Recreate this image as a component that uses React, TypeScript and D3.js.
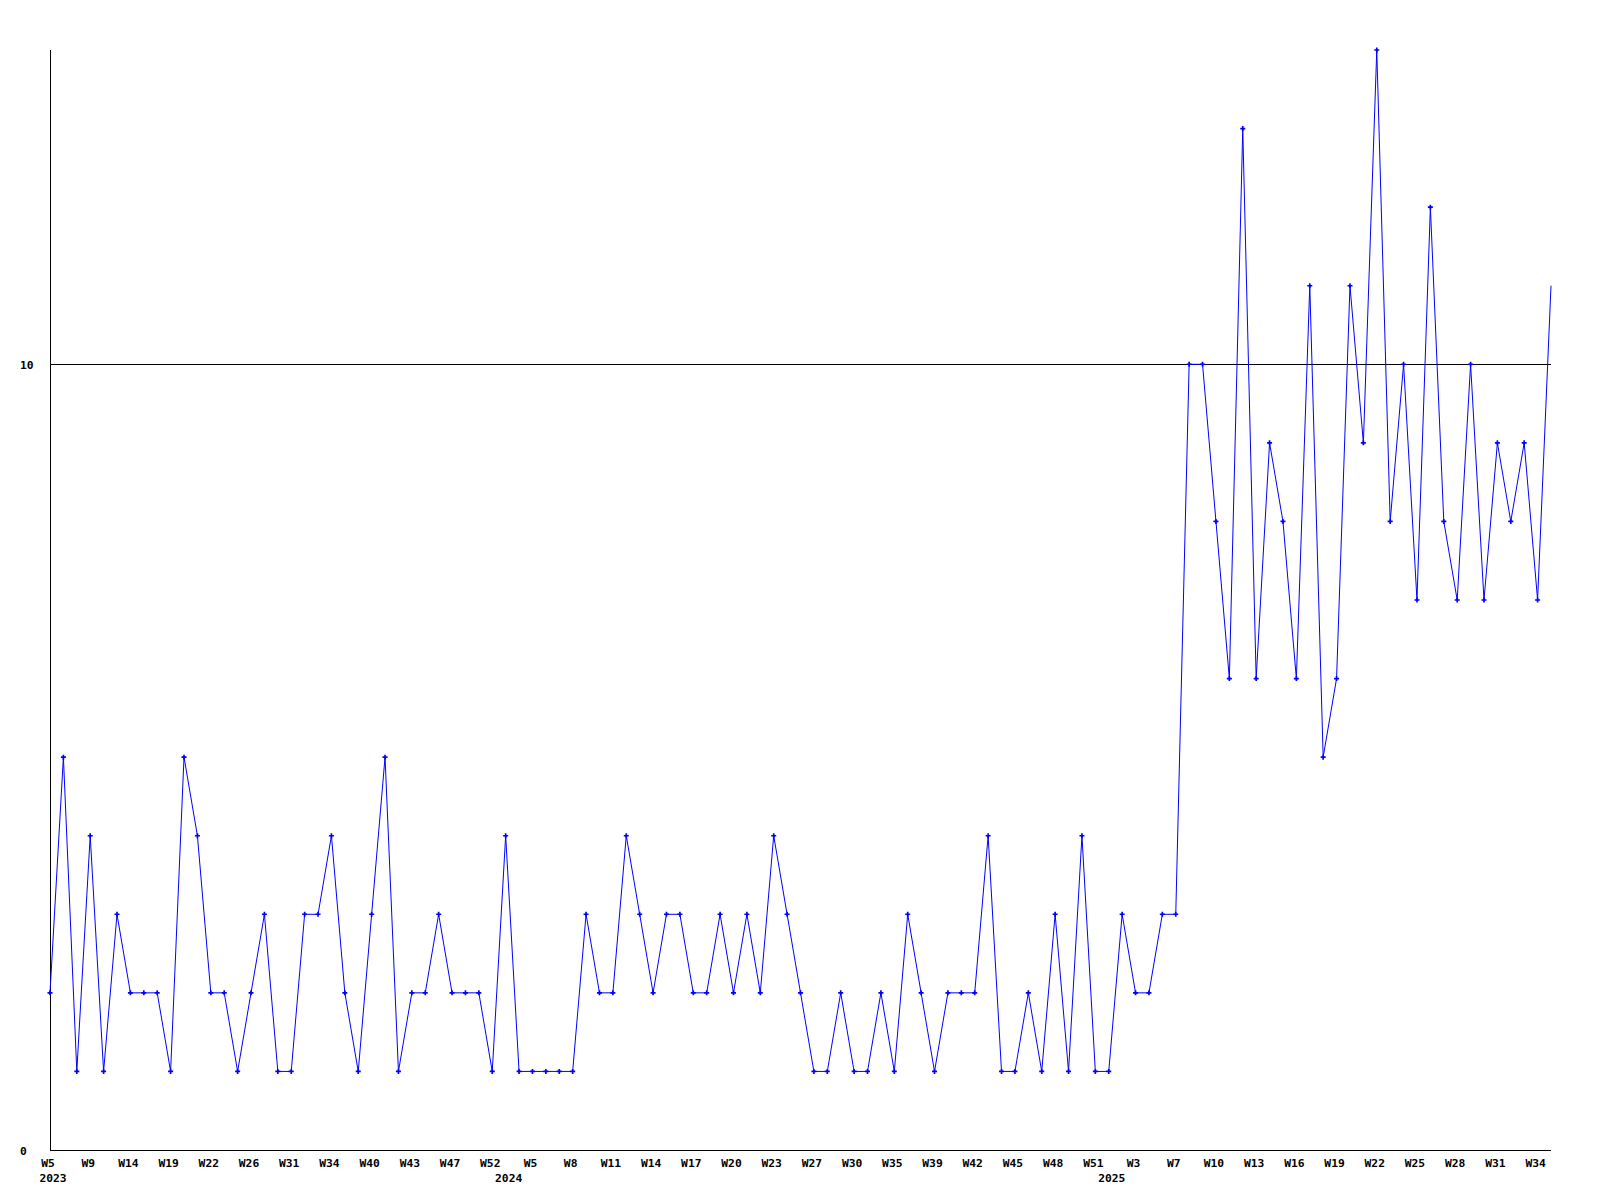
import React from "react";
import * as d3 from "d3";

const values: number[] = [
  2, 5, 1, 4, 1, 3, 2, 2, 2, 1, 5, 4, 2, 2, 1, 2, 3, 1, 1, 3,
  3, 4, 2, 1, 3, 5, 1, 2, 2, 3, 2, 2, 2, 1, 4, 1, 1, 1, 1, 1,
  3, 2, 2, 4, 3, 2, 3, 3, 2, 2, 3, 2, 3, 2, 4, 3, 2, 1, 1, 2,
  1, 1, 2, 1, 3, 2, 1, 2, 2, 2, 4, 1, 1, 2, 1, 3, 1, 4, 1, 1,
  3, 2, 2, 3, 3, 10, 10, 8, 6, 13, 6, 9, 8, 6, 11, 5, 6, 11, 9, 14,
  8, 10, 7, 12, 8, 7, 10, 7, 9, 8, 9, 7, 11,
];

const weekLabels: string[] = [
  "W5", "W9", "W14", "W19", "W22", "W26", "W31", "W34", "W40", "W43", "W47", "W52",
  "W5", "W8", "W11", "W14", "W17", "W20", "W23", "W27", "W30", "W35", "W39", "W42", "W45", "W48", "W51",
  "W3", "W7", "W10", "W13", "W16", "W19", "W22", "W25", "W28", "W31", "W34",
];
const labelStep = 3;

const yearNames: string[] = ["2023", "2024", "2025"];
const yearStartIndex: number[] = [0, 34, 79];

const yTickValues: number[] = [0, 10];
const refLineValue = 10;
const yMax = 14;

const W = 1600;
const H = 1200;
const left = 50;
const right = 1551;
const top = 50;
const bottom = 1150;

const FONT = "'DejaVu Sans Mono', 'Liberation Mono', monospace";
const FS = 11.3;

export default function App() {
  const x = d3.scaleLinear().domain([0, values.length - 1]).range([left, right]);
  const y = d3.scaleLinear().domain([0, yMax]).range([bottom, top]);
  const line = d3
    .line<number>()
    .x((_, i) => x(i))
    .y((d) => y(d));
  const marker = d3.symbol().type(d3.symbolCross).size(14)() as string;

  return (
    <svg
      width={W}
      height={H}
      style={{ position: "absolute", left: 0, top: 0, background: "#fff" }}
    >
      <rect x={0} y={0} width={W} height={H} fill="#fff" />
      {/* axes */}
      <line x1={left + 0.5} x2={left + 0.5} y1={top} y2={bottom} stroke="#000" strokeWidth={1} shapeRendering="crispEdges" />
      <line x1={left} x2={right} y1={bottom + 0.5} y2={bottom + 0.5} stroke="#000" strokeWidth={1} shapeRendering="crispEdges" />
      <line x1={left} x2={right} y1={Math.round(y(refLineValue)) + 0.5} y2={Math.round(y(refLineValue)) + 0.5} stroke="#000" strokeWidth={1} shapeRendering="crispEdges" />

      {/* y labels */}
      {yTickValues.map((v) => (
        <text
          key={v}
          x={20}
          y={y(v) + 5}
          fontFamily={FONT}
          fontWeight="bold"
          fontSize={FS}
          fill="#000"
        >
          {v}
        </text>
      ))}

      {/* data line */}
      <path d={line(values) as string} fill="none" stroke="#0000ff" strokeWidth={1} />
      {values.slice(0, -1).map((v, i) => (
        <path key={i} d={marker} transform={`translate(${x(i)},${y(v)})`} fill="#0000ff" />
      ))}

      {/* x labels */}
      {weekLabels.map((lab, k) => (
        <text
          key={k}
          x={x(k * labelStep) - 2}
          y={1167}
          textAnchor="middle"
          fontFamily={FONT}
          fontWeight="bold"
          fontSize={FS}
          fill="#000"
        >
          {lab}
        </text>
      ))}
      {yearNames.map((yr, k) => (
        <text
          key={yr}
          x={x(yearStartIndex[k]) + 3}
          y={1182}
          textAnchor="middle"
          fontFamily={FONT}
          fontWeight="bold"
          fontSize={FS}
          fill="#000"
        >
          {yr}
        </text>
      ))}
    </svg>
  );
}
